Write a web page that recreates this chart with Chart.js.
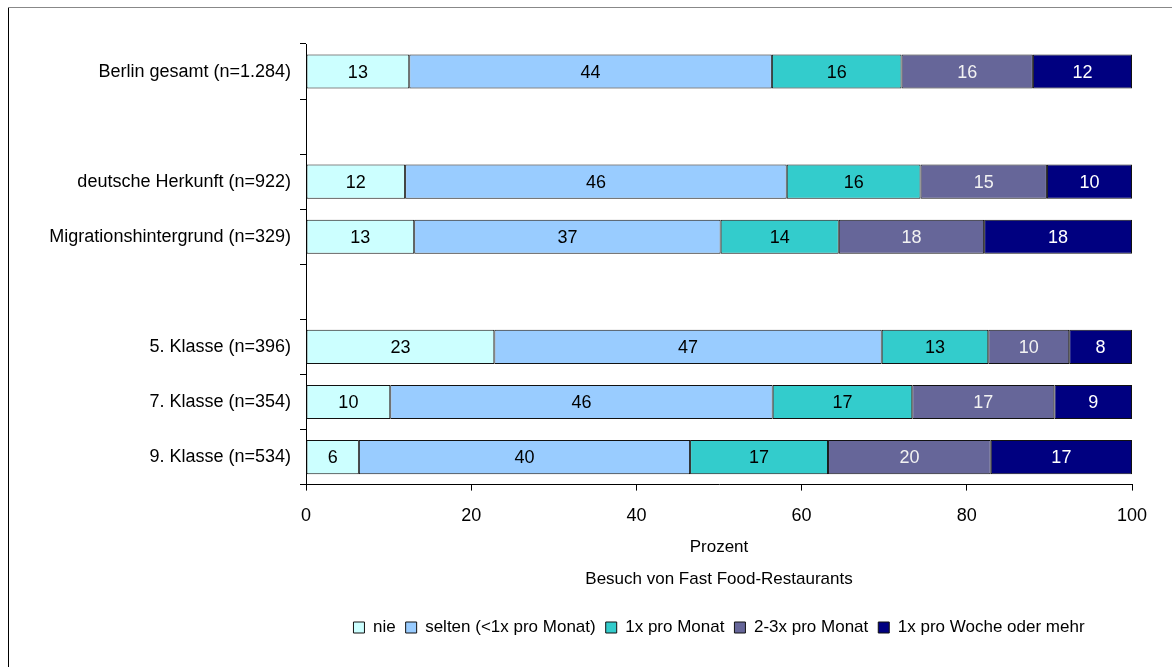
<!DOCTYPE html>
<html>
<head>
<meta charset="utf-8">
<script src="https://cdn.jsdelivr.net/npm/chart.js@4/dist/chart.umd.min.js"></script>
<style>
  body { margin: 0; background: #fff; }
  .wrap { position: relative; width: 1172px; height: 667px; }
  .frame-left { position: absolute; left: 8px; top: 7px; width: 1px; height: 660px; background: #000; }
  .frame-top { position: absolute; left: 8px; top: 7px; width: 1164px; height: 1px; background: #888; }
  canvas { position: absolute; left: 0; top: 0; }
</style>
</head>
<body>
<div class="wrap">
  <canvas id="myChart" width="1172" height="667"></canvas>
  <div class="frame-left"></div>
  <div class="frame-top"></div>
</div>
<script>
// gruppen (leere zeilen = abstand)
let groups = [
  "Berlin gesamt (n=1.284)",
  "",
  "deutsche Herkunft (n=922)",
  "Migrationshintergrund (n=329)",
  "",
  "5. Klasse (n=396)",
  "7. Klasse (n=354)",
  "9. Klasse (n=534)",
];
let seriesNames = ["nie", "selten (<1x pro Monat)", "1x pro Monat", "2-3x pro Monat", "1x pro Woche oder mehr"];
// prozentwerte
let nie = [12.5, null, 12.0, 13.1, null, 22.8, 10.2, 6.4];
let selten = [43.9, null, 46.2, 37.1, null, 46.9, 46.3, 40.1];
let proMonat = [15.7, null, 16.2, 14.3, null, 12.9, 16.9, 16.7];
let zweiDrei = [15.9, null, 15.3, 17.6, null, 9.8, 17.2, 19.7];
let proWoche = [12.0, null, 10.3, 17.9, null, 7.6, 9.4, 17.1];
let xTicks = [0, 20, 40, 60, 80, 100];

let colors = ["#ccffff", "#99ccff", "#33cccc", "#666699", "#000080"];
let labelColors = ["#000", "#000", "#000", "#f2f2f2", "#fff"];
const FONT = '"Liberation Sans", Arial, sans-serif';

Chart.defaults.font.family = FONT;
Chart.defaults.font.size = 18;
Chart.defaults.color = "#000";

// zahlen in die balken schreiben
const barLabels = {
  id: "barLabels",
  afterDatasetsDraw(chart) {
    const ctx = chart.ctx;
    ctx.save();
    ctx.font = "18px " + FONT;
    ctx.textAlign = "center";
    ctx.textBaseline = "middle";
    chart.data.datasets.forEach((ds, i) => {
      chart.getDatasetMeta(i).data.forEach((bar, j) => {
        let v = ds.data[j];
        if (v == null) return;
        let p = bar.getProps(["x", "y", "base"], true);
        ctx.fillStyle = labelColors[i];
        ctx.fillText(Math.round(v), (p.x + p.base) / 2, p.y + 1);
      });
    });
    ctx.restore();
  },
};

let allSeries = [nie, selten, proMonat, zweiDrei, proWoche];
let datasets = allSeries.map((d, i) => ({
  label: seriesNames[i],
  data: d,
  backgroundColor: colors[i],
  borderColor: "#111",
  borderWidth: 1,
  borderSkipped: false,
  categoryPercentage: 1,
  barPercentage: 0.62,
}));

let myBarChart = new Chart("myChart", {
  type: "bar",
  data: { labels: groups, datasets: datasets },
  plugins: [barLabels],
  options: {
    indexAxis: "y",
    responsive: false,
    animation: false,
    layout: { padding: { left: 10, right: 40, top: 44, bottom: 21 } },
    scales: {
      x: {
        stacked: true,
        min: 0,
        max: 100,
        afterBuildTicks: (axis) => {
          axis.ticks = xTicks.map((v) => ({ value: v }));
        },
        afterFit: (scale) => {
          scale.height = 77;
        },
        grid: { drawOnChartArea: false, tickLength: 6, color: "#000" },
        border: { color: "#000" },
        ticks: { padding: 15, font: { size: 18 } },
        title: {
          display: true,
          text: "Prozent",
          font: { size: 17 },
          padding: { top: 2, bottom: 4 },
        },
      },
      y: {
        stacked: true,
        afterFit: (scale) => {
          scale.width = 296;
        },
        grid: { drawOnChartArea: false, tickLength: 6, color: "#000" },
        border: { color: "#000" },
        ticks: { padding: 9, font: { size: 18 } },
      },
    },
    plugins: {
      legend: {
        position: "bottom",
        fullSize: false,
        weight: 1000,
        labels: { boxWidth: 11, boxHeight: 11, padding: 10, font: { size: 17 } },
      },
      title: {
        display: true,
        position: "bottom",
        fullSize: false,
        weight: 500,
        text: "Besuch von Fast Food-Restaurants",
        font: { size: 17, weight: "normal" },
        padding: { top: 8, bottom: 19 },
      },
      tooltip: { enabled: false },
    },
  },
});
</script>
</body>
</html>
